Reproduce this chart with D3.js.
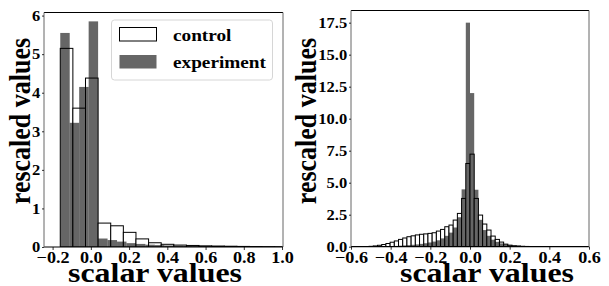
<!DOCTYPE html>
<html>
<head>
<meta charset="utf-8">
<script src="https://cdn.jsdelivr.net/npm/d3@7"></script>
<style>
  body { margin: 0; background: #fff; }
</style>
</head>
<body>
<div id="chart"></div>
<script>
// left panel: bins start / width and heights
const leftXTicks = [-0.2, 0.0, 0.2, 0.4, 0.6, 0.8, 1.0];
const leftYTicks = [0, 1, 2, 3, 4, 5, 6];
const leftControlStart = -0.16, leftControlWidth = 0.066;
const leftControl = [5.15, 3.6, 4.38, 0.62, 0.55, 0.38, 0.21, 0.11, 0.07, 0.05, 0.04, 0.03,
  0.025, 0.02, 0.015, 0.012, 0.01, 0.008, 0.006];
const leftExpStart = -0.16, leftExpWidth = 0.0495;
const leftExp = [5.55, 3.22, 4.15, 5.85, 0.22, 0.18, 0.14, 0.1, 0.08, 0.06, 0.05, 0.04, 0.035,
  0.03, 0.025, 0.02, 0.018, 0.015, 0.012, 0.01, 0.008, 0.007, 0.006, 0.005, 0.004];

// right panel
const rightXTicks = [-0.6, -0.4, -0.2, 0.0, 0.2, 0.4, 0.6];
const rightYTicks = [0, 2.5, 5, 7.5, 10, 12.5, 15, 17.5];
const rightStart = -0.5936, rightWidth = 0.0212;
const rightControl = [0.003, 0.005, 0.01, 0.015, 0.03, 0.06, 0.11, 0.17, 0.25, 0.35, 0.45, 0.57,
  0.68, 0.78, 0.85, 0.92, 0.97, 1.0, 1.04, 1.09, 1.22, 1.35, 1.56, 1.69, 2.08, 2.6, 3.77, 6.5,
  7.23, 3.77, 2.47, 1.77, 1.3, 0.83, 0.57, 0.36, 0.2, 0.12, 0.07, 0.05, 0.03, 0.02, 0.015, 0.01,
  0.008, 0.005];
const rightExp = [0, 0, 0, 0.005, 0.01, 0.015, 0.02, 0.03, 0.04, 0.05, 0.06, 0.08, 0.1, 0.12,
  0.15, 0.18, 0.22, 0.27, 0.33, 0.4, 0.5, 0.65, 0.85, 1.1, 1.5, 2.3, 4.48, 17.5,
  12.0, 4.45, 2.1, 1.3, 0.85, 0.55, 0.38, 0.26, 0.18, 0.13, 0.1, 0.08, 0.06, 0.05, 0.04, 0.035,
  0.03, 0.025, 0.02, 0.015, 0.01];

const legendLabels = ["control", "experiment"];
const stretch = 1.1; // picture is a bit wider than tall
const serif = "'Liberation Serif', 'Times New Roman', Times, serif";

const svg = d3.select("#chart").append("svg")
  .attr("width", 609).attr("height", 286);

const toBins = (start, w, arr) => arr.map((h, i) => ({ x0: start + i * w, x1: start + (i + 1) * w, h }));

function panel(o) {
  const x = d3.scaleLinear().domain(o.xDomain).range([o.left, o.right]);
  const y = d3.scaleLinear().domain(o.yDomain).range([o.bottom, o.top]);
  const g = svg.append("g");
  const clipId = "clip" + o.id;
  g.append("clipPath").attr("id", clipId).append("rect")
    .attr("x", o.left).attr("y", o.top).attr("width", o.right - o.left).attr("height", o.bottom - o.top);
  const plot = g.append("g").attr("clip-path", `url(#${clipId})`);

  // control: white bars with black edge
  plot.selectAll("rect.c").data(o.control).enter().append("rect")
    .attr("class", "c")
    .attr("x", d => x(d.x0)).attr("width", d => x(d.x1) - x(d.x0))
    .attr("y", d => y(d.h)).attr("height", d => y(0) - y(d.h))
    .attr("fill", "#fff").attr("stroke", "#000").attr("stroke-width", 1);
  // experiment: translucent gray on top
  plot.selectAll("rect.e").data(o.exp).enter().append("rect")
    .attr("class", "e")
    .attr("x", d => x(d.x0)).attr("width", d => x(d.x1) - x(d.x0))
    .attr("y", d => y(d.h)).attr("height", d => y(0) - y(d.h))
    .attr("fill", "#000").attr("fill-opacity", 0.6);

  // frame: horizontal spines crisp black, vertical ones softer
  const fr = g.append("g");
  fr.append("line").attr("x1", o.left).attr("x2", o.right).attr("y1", o.top).attr("y2", o.top)
    .attr("stroke", "#000").attr("stroke-width", 1);
  fr.append("line").attr("x1", o.left).attr("x2", o.right).attr("y1", o.bottom).attr("y2", o.bottom)
    .attr("stroke", "#000").attr("stroke-width", 1.2);
  [o.left, o.right].forEach(xx => fr.append("line").attr("x1", xx).attr("x2", xx)
    .attr("y1", o.top).attr("y2", o.bottom).attr("stroke", "#666").attr("stroke-width", 1));

  const xa = g.append("g").attr("transform", `translate(0,${o.bottom})`)
    .call(d3.axisBottom(x).tickValues(o.xTicks).tickFormat(d3.format(".1f")).tickSize(3).tickPadding(1.5));
  xa.select(".domain").remove();
  xa.selectAll("text").style("font-family", serif).style("font-weight", "bold")
    .attr("font-size", 16.5).attr("fill", "#000")
    .attr("transform", `scale(${stretch},1)`);

  const ya = g.append("g").attr("transform", `translate(${o.left},0)`)
    .call(d3.axisLeft(y).tickValues(o.yTicks).tickFormat(o.yFormat).tickSize(2).tickPadding(1.5));
  ya.select(".domain").remove();
  ya.selectAll("text").style("font-family", serif).style("font-weight", "bold")
    .attr("font-size", 15).attr("fill", "#000")
    .attr("transform", `scale(${stretch},1)`);
  g.selectAll(".tick line").attr("stroke", "#000").attr("stroke-width", 0.8);

  g.append("text").attr("text-anchor", "middle").attr("font-size", 28)
    .style("font-family", serif).style("font-weight", "bold")
    .attr("transform", `translate(${o.xlabelX},${o.xlabelY}) scale(1.14,1)`)
    .text("scalar values");
  g.append("text").attr("text-anchor", "middle").attr("font-size", 26)
    .style("font-family", serif).style("font-weight", "bold")
    .attr("transform", `translate(${o.ylabelX},${o.ylabelY}) scale(${stretch},1) rotate(-90)`)
    .text("rescaled values");
}

panel({
  id: "L", left: 44, right: 283, top: 12.5, bottom: 247,
  xDomain: [-0.245, 1.005], yDomain: [0, 6.08],
  xTicks: leftXTicks, yTicks: leftYTicks, yFormat: d3.format("d"),
  control: toBins(leftControlStart, leftControlWidth, leftControl),
  exp: toBins(leftExpStart, leftExpWidth, leftExp),
  xlabelX: 155, xlabelY: 282, ylabelX: 30, ylabelY: 121
});

panel({
  id: "R", left: 351, right: 589, top: 10.5, bottom: 246.7,
  xDomain: [-0.6, 0.6], yDomain: [0, 18.45],
  xTicks: rightXTicks, yTicks: rightYTicks, yFormat: d3.format(".1f"),
  control: toBins(rightStart, rightWidth, rightControl),
  exp: toBins(rightStart, rightWidth, rightExp),
  xlabelX: 487, xlabelY: 282, ylabelX: 316, ylabelY: 121
});

// legend (left panel)
const lg = svg.append("g");
lg.append("rect").attr("x", 111.5).attr("y", 20).attr("width", 161).attr("height", 60)
  .attr("rx", 3).attr("fill", "#fff").attr("fill-opacity", 0.8)
  .attr("stroke", "#ccc").attr("stroke-width", 0.8);
legendLabels.forEach((name, i) => {
  const yy = 27.5 + i * 27.5;
  lg.append("rect").attr("x", 119.5).attr("y", yy).attr("width", 37).attr("height", 13.5)
    .attr("fill", i === 0 ? "#fff" : "#000").attr("fill-opacity", i === 0 ? 1 : 0.6)
    .attr("stroke", i === 0 ? "#000" : "none").attr("stroke-width", 1);
  lg.append("text").attr("font-size", 17.5)
    .style("font-family", serif).style("font-weight", "bold")
    .attr("transform", `translate(173,${yy + 13}) scale(${stretch},1)`)
    .text(name);
});
</script>
</body>
</html>
